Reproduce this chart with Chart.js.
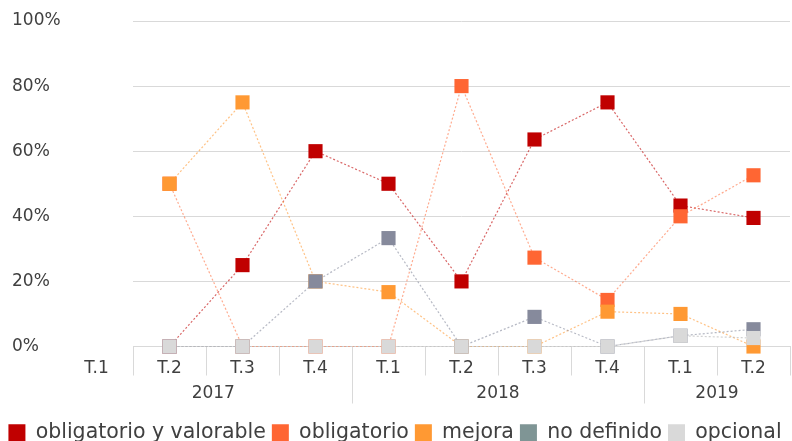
<!DOCTYPE html>
<html>
<head>
<meta charset="utf-8">
<script src="https://cdn.jsdelivr.net/npm/chart.js@4.4.1/dist/chart.umd.min.js"></script>
<style>
html, body { margin: 0; padding: 0; background: #fff; }
#contenedor { width: 792px; height: 441px; }
</style>
</head>
<body>
<div id="contenedor"><canvas id="grafico"></canvas></div>
<script>
// trimestres 2017 T.1 .. 2019 T.2 (T.1 2017 sin datos)
const trimestres = ['T.1', 'T.2', 'T.3', 'T.4', 'T.1', 'T.2', 'T.3', 'T.4', 'T.1', 'T.2'];
const anios = ['2017', '2018', '2019'];
const trimestresPorAnio = [4, 4, 2];

const obligatorioValorable = [null, 0, 25, 60, 50, 20, 63.6, 75, 43.3, 39.5];
const obligatorio = [null, 50, 0, 0, 0, 80, 27.3, 14.3, 40, 52.6];
const mejora = [null, 50, 75, 20, 16.7, 0, 0, 10.7, 10, 0];
const noDefinido = [null, 0, 0, 20, 33.3, 0, 9.1, 0, 3.3, 5.3];
const opcional = [null, 0, 0, 0, 0, 0, 0, 0, 3.3, 2.6];

const valoresEjeY = [0, 20, 40, 60, 80, 100];

const FUENTE = '"DejaVu Sans", sans-serif';
const COLOR_TEXTO = '#404040';
const COLOR_REJILLA = '#d9d9d9';

function serie(nombre, datos, color, colorLinea, orden) {
    return {
        label: nombre,
        data: datos,
        borderColor: colorLinea,
        backgroundColor: color,
        borderWidth: 1.2,
        borderDash: [2, 2],
        pointStyle: 'rect',
        pointRadius: 10,
        pointHoverRadius: 10,
        pointBackgroundColor: color,
        pointBorderColor: color,
        pointBorderWidth: 0,
        tension: 0,
        clip: false,
        order: orden
    };
}

const separadoresAnios = {
    id: 'separadoresAnios',
    afterDraw(chart) {
        const x = chart.scales.x;
        const ctx = chart.ctx;
        const paso = x.getPixelForValue(2) - x.getPixelForValue(1);
        const y0 = x.top;
        ctx.save();
        ctx.font = '17px ' + FUENTE;
        ctx.fillStyle = COLOR_TEXTO;
        ctx.textAlign = 'center';
        ctx.textBaseline = 'middle';
        // etiqueta T.1 2017 que queda fuera del area
        ctx.fillText(trimestres[0], x.getPixelForValue(0), y0 + 22);

        ctx.strokeStyle = COLOR_REJILLA;
        ctx.lineWidth = 1;
        let inicio = 0;
        anios.forEach((anio, i) => {
            const fin = inicio + trimestresPorAnio[i] - 1;
            const izq = Math.max(x.getPixelForValue(inicio) - paso / 2, x.left - 0.8 * paso);
            const der = Math.min(x.getPixelForValue(fin) + paso / 2, x.right);
            if (i < anios.length - 1) {
                ctx.beginPath();
                ctx.moveTo(Math.round(der) + 0.5, y0);
                ctx.lineTo(Math.round(der) + 0.5, y0 + 57);
                ctx.stroke();
            }
            ctx.fillText(anio, (izq + der) / 2, y0 + 47);
            inicio = fin + 1;
        });
        ctx.restore();
    }
};

new Chart(document.getElementById('grafico'), {
    type: 'line',
    data: {
        labels: trimestres,
        datasets: [
            serie('obligatorio y valorable', obligatorioValorable, '#c00000', 'rgba(192,0,0,0.6)', 5),
            serie('obligatorio', obligatorio, '#ff6633', 'rgba(255,102,51,0.55)', 4),
            serie('mejora', mejora, '#ff9933', 'rgba(255,153,51,0.6)', 3),
            serie('no definido', noDefinido, '#868a9c', 'rgba(134,138,156,0.6)', 2),
            serie('opcional', opcional, '#d9d9d9', 'rgba(190,190,190,0.7)', 1)
        ]
    },
    options: {
        responsive: true,
        maintainAspectRatio: false,
        animation: false,
        spanGaps: true,
        layout: { autoPadding: false, padding: { top: 21, right: 2, left: 0, bottom: -12 } },
        scales: {
            x: {
                min: 1,
                offset: true,
                grid: {
                    offset: true,
                    drawOnChartArea: false,
                    drawTicks: true,
                    tickLength: 29,
                    color: COLOR_REJILLA
                },
                border: { color: COLOR_REJILLA },
                ticks: {
                    font: { family: FUENTE, size: 17 },
                    color: COLOR_TEXTO,
                    padding: -17,
                    maxRotation: 0,
                    autoSkip: false
                },
                afterFit: s => {
                    s.height = 70;
                    s.paddingLeft = 0;
                    s.paddingRight = 0;
                }
            },
            y: {
                min: 0,
                max: 100,
                afterBuildTicks: s => { s.ticks = valoresEjeY.map(v => ({ value: v })); },
                grid: { color: COLOR_REJILLA, drawTicks: false },
                border: { display: false },
                ticks: {
                    font: { family: FUENTE, size: 17 },
                    color: COLOR_TEXTO,
                    mirror: true,
                    crossAlign: 'near',
                    padding: -121,
                    callback: v => v + '%'
                },
                afterFit: s => {
                    s.width = 133;
                    s.paddingTop = 0;
                    s.paddingBottom = 0;
                }
            }
        },
        plugins: {
            tooltip: { enabled: false },
            legend: {
                position: 'bottom',
                labels: {
                    font: { family: FUENTE, size: 20.5 },
                    color: COLOR_TEXTO,
                    boxWidth: 17,
                    boxHeight: 17,
                    padding: 6,
                    sort: (a, b) => a.datasetIndex - b.datasetIndex,
                    generateLabels: chart => {
                        const items = Chart.defaults.plugins.legend.labels.generateLabels(chart);
                        items.forEach(it => {
                            it.lineWidth = 0;
                            it.lineDash = [];
                            if (it.text === 'no definido') it.fillStyle = '#7f9595';
                        });
                        return items;
                    }
                }
            }
        }
    },
    plugins: [separadoresAnios]
});
</script>
</body>
</html>
